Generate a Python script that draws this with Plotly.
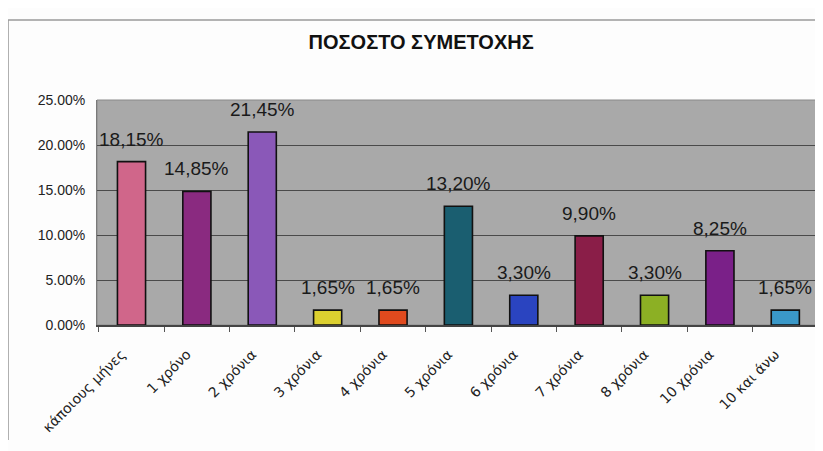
import plotly.graph_objects as go

categories = ["κάποιους μήνες", "1 χρόνο", "2 χρόνια", "3 χρόνια", "4 χρόνια",
              "5 χρόνια", "6 χρόνια", "7 χρόνια", "8 χρόνια", "10 χρόνια", "10 και άνω"]
values = [18.15, 14.85, 21.45, 1.65, 1.65, 13.20, 3.30, 9.90, 3.30, 8.25, 1.65]
bar_colors = ["#d0668a", "#8a2a80", "#8a58b8", "#dcd030", "#e04a1e", "#1a5e70",
              "#2a44c0", "#8a1e48", "#8cb024", "#7a2088", "#3a98c8"]
title_text = "ΠΟΣΟΣΤΟ ΣΥΜΕΤΟΧΗΣ"

labels = [f"{v:.2f}".replace(".", ",") + "%" for v in values]

fig = go.Figure()
fig.add_trace(go.Bar(
    x=categories, y=values,
    marker=dict(color=bar_colors, line=dict(color="#111111", width=1.6)),
    width=0.43, hoverinfo="skip",
))

for c, v, t in zip(categories, values, labels):
    fig.add_annotation(x=c, y=v, text=t, showarrow=False, yanchor="bottom",
                       yshift=10, font=dict(family="Liberation Sans, Arial", size=19, color="#1a1a1a"))

# scan frame lines
fig.add_shape(type="line", xref="paper", yref="paper", x0=-0.1234, x1=-0.1234, y0=1.356, y1=-0.511,
              line=dict(color="#9a9a9a", width=1.5))
fig.add_shape(type="line", xref="paper", yref="paper", x0=-0.1234, x1=1.01, y0=1.356, y1=1.356,
              line=dict(color="#9a9a9a", width=1.5))
# plot area border
fig.add_shape(type="rect", xref="paper", yref="paper", x0=0, x1=1, y0=0, y1=1,
              line=dict(color="#8a8a8a", width=1), layer="below")

fig.update_layout(
    width=823, height=451,
    margin=dict(l=89, r=13, t=92, b=134, autoexpand=False),
    paper_bgcolor="#fdfdfd",
    plot_bgcolor="#a9a9a9",
    showlegend=False,
    title=dict(text="<b>" + title_text + "</b>", x=0.502, xanchor="center", y=0.925, yanchor="middle",
               font=dict(family="Liberation Sans, Arial", size=20, color="#111111")),
    bargap=0.57,
)
fig.update_yaxes(range=[0, 25], dtick=5, tickformat=".2f", ticksuffix="%",
                 showgrid=True, gridcolor="#4a4a4a", gridwidth=1,
                 zeroline=False, showline=True, linecolor="#7a7a7a", linewidth=1,
                 tickfont=dict(family="Liberation Sans, Arial", size=14, color="#222222"),
                 ticks="", ticklabelstandoff=8, fixedrange=True)
fig.update_xaxes(tickangle=-45, tickson="boundaries", ticks="outside", ticklen=5,
                 tickcolor="#555555", showline=True, linecolor="#444444", linewidth=1.5,
                 showgrid=False, ticklabelstandoff=14, ticklabelshift=-10,
                 tickfont=dict(family="DejaVu Sans, Liberation Sans", size=14, color="#222222"))

fig.write_html("out.html")
